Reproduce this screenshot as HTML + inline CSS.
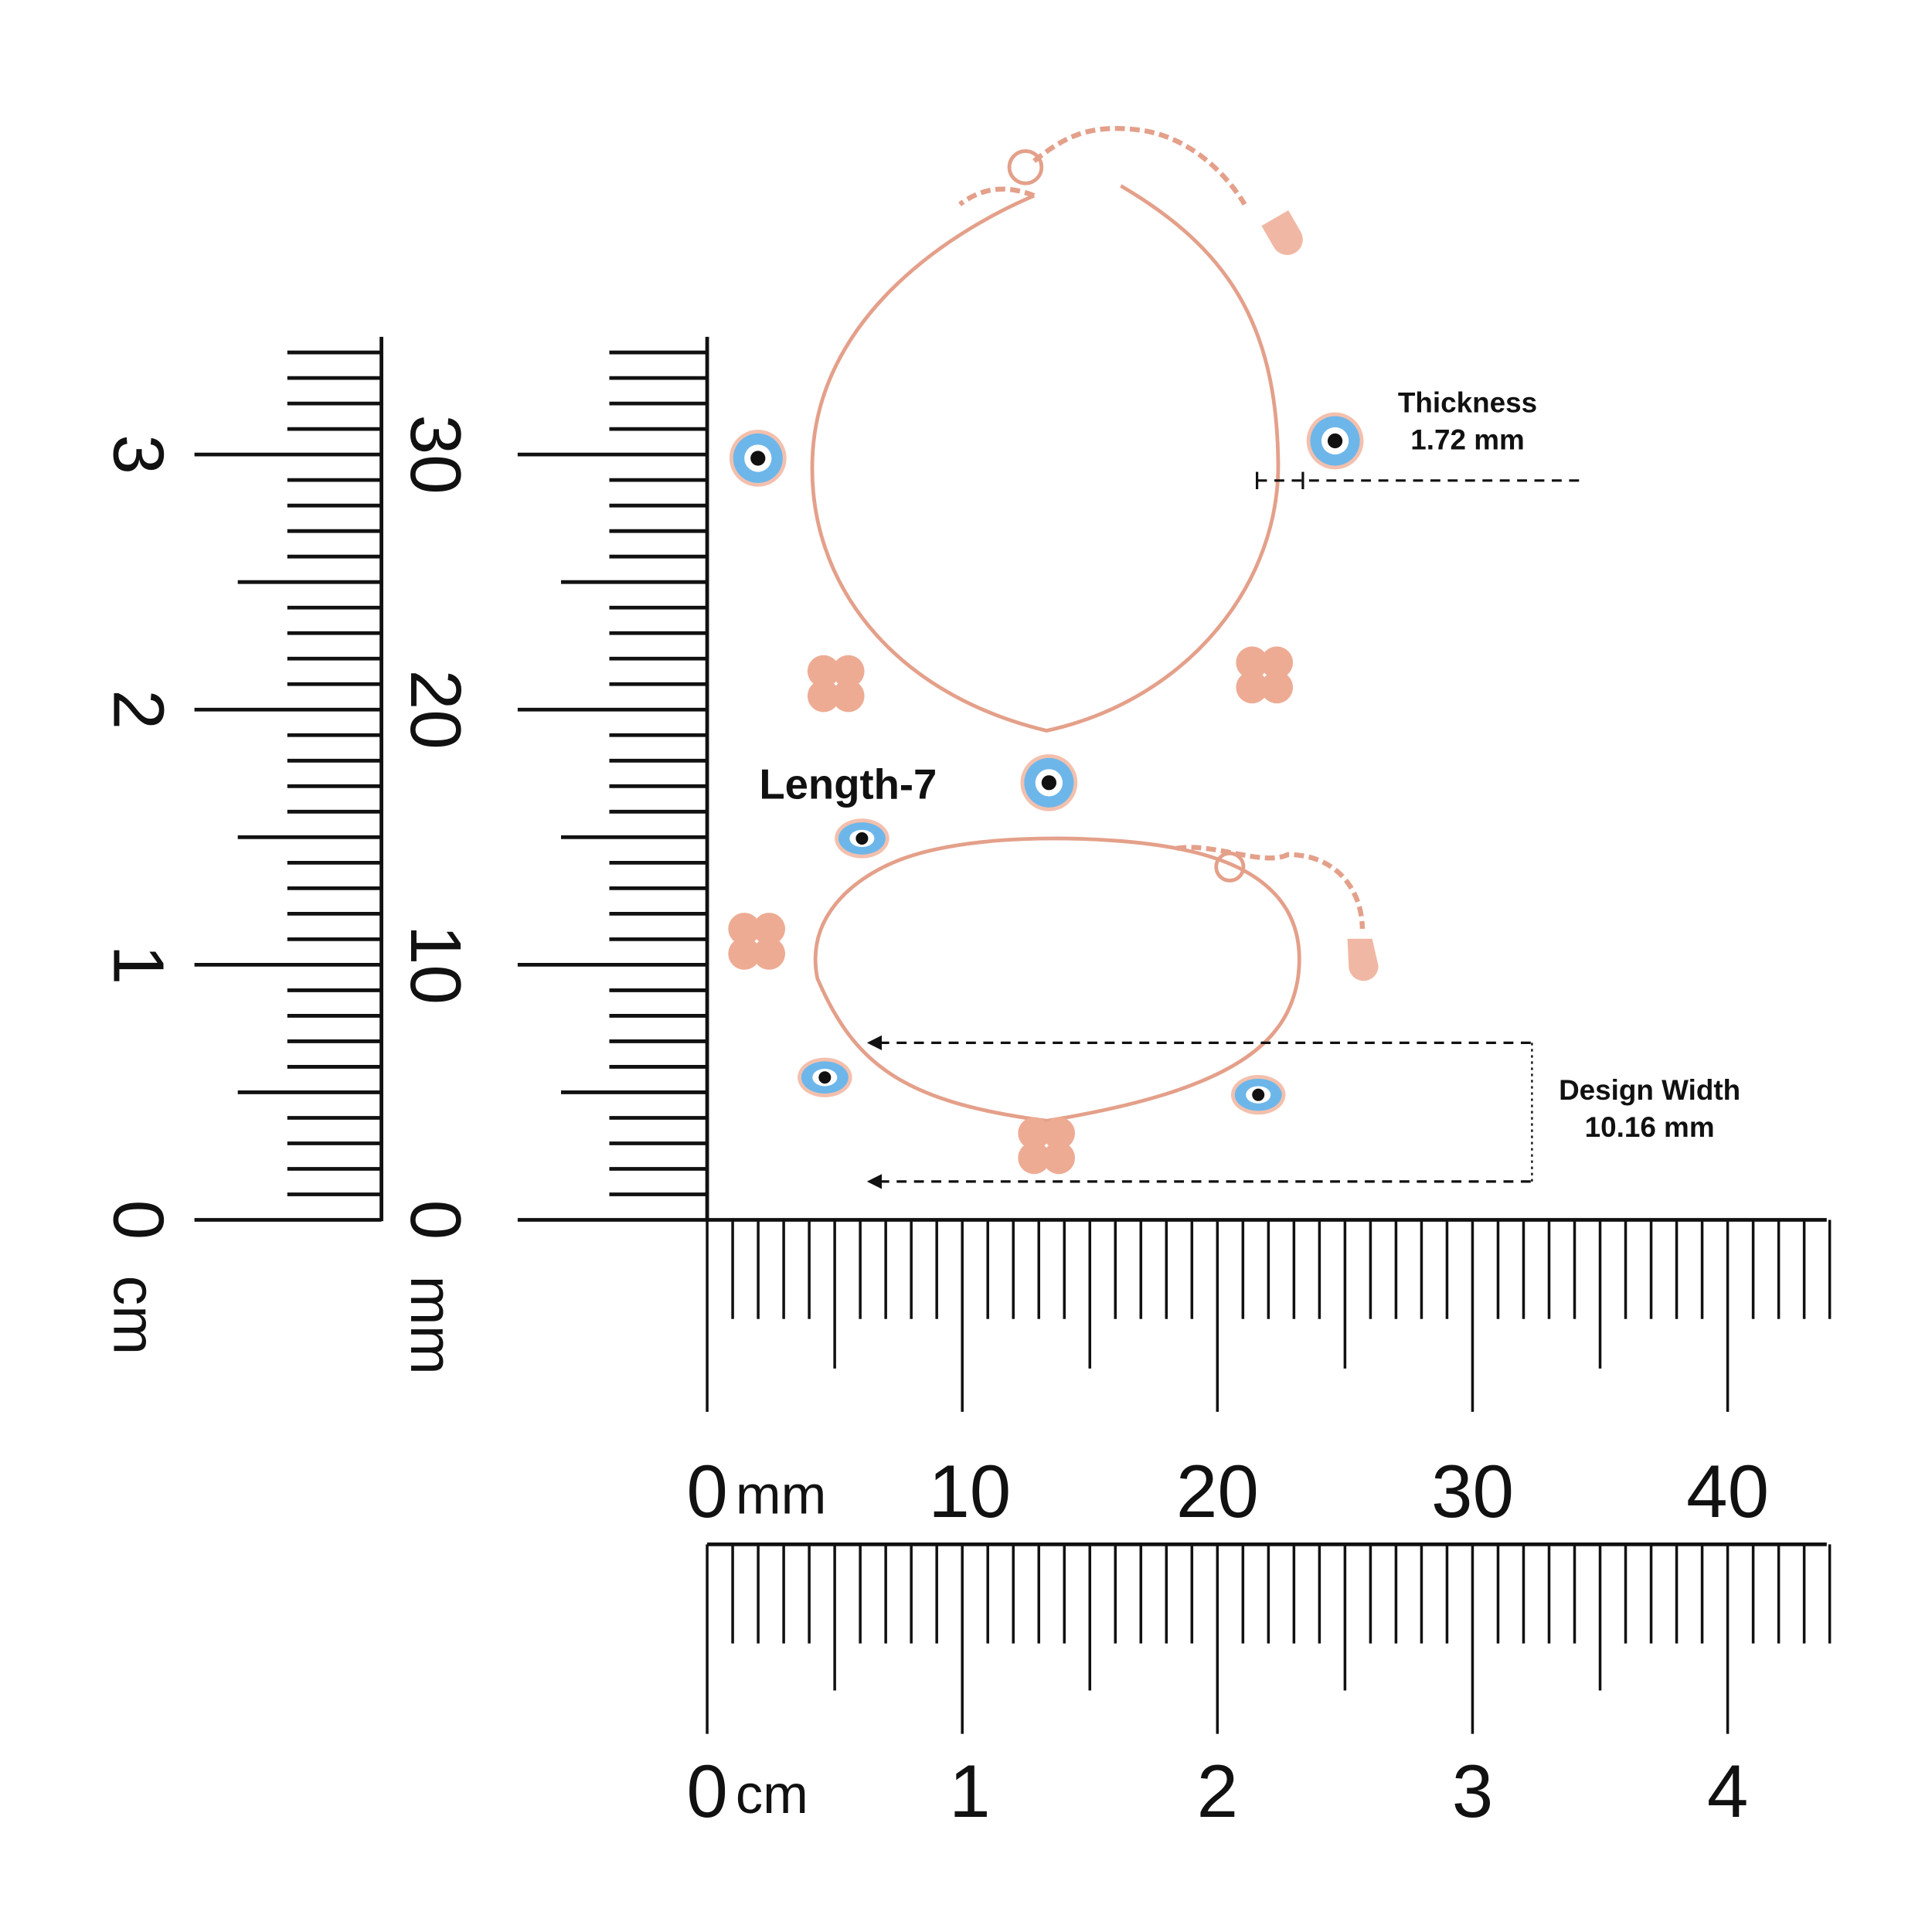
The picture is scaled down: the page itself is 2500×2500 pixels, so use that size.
<!DOCTYPE html>
<html><head><meta charset="utf-8"><style>
html,body{margin:0;padding:0;background:#fff;}
svg{display:block;}
text{font-family:"Liberation Sans",sans-serif;}
</style></head><body>
<svg id="s" width="2500" height="2500" viewBox="0 0 1560 1560" xmlns="http://www.w3.org/2000/svg">
<rect width="1560" height="1560" fill="#fff"/>
<g id="ticks" stroke="#111"></g>
<!-- axis lines -->
<g stroke="#111" stroke-width="3">
<line x1="308" y1="272" x2="308" y2="986"/>
<line x1="571" y1="272" x2="571" y2="986"/>
<line x1="157" y1="985" x2="308" y2="985"/>
<line x1="418" y1="985" x2="1475" y2="985"/>
<line x1="571" y1="1247" x2="1475" y2="1247"/>
</g>
<!-- rotated labels left -->
<g font-size="58" fill="#111">
<text transform="translate(92,985) rotate(90)" text-anchor="middle">0</text>
<text transform="translate(92,779) rotate(90)" text-anchor="middle">1</text>
<text transform="translate(92,573) rotate(90)" text-anchor="middle">2</text>
<text transform="translate(92,367) rotate(90)" text-anchor="middle">3</text>
<text transform="translate(92,1030) rotate(90)" font-size="48">cm</text>
<text transform="translate(332,985) rotate(90)" text-anchor="middle">0</text>
<text transform="translate(332,779) rotate(90)" text-anchor="middle">10</text>
<text transform="translate(332,573) rotate(90)" text-anchor="middle">20</text>
<text transform="translate(332,367) rotate(90)" text-anchor="middle">30</text>
<text transform="translate(332,1030) rotate(90)" font-size="48">mm</text>
</g>
<g font-size="60" fill="#111">
<text x="571" y="1225" text-anchor="middle">0</text><text x="594" y="1222" font-size="44">mm</text>
<text x="783" y="1225" text-anchor="middle">10</text>
<text x="983" y="1225" text-anchor="middle">20</text>
<text x="1189" y="1225" text-anchor="middle">30</text>
<text x="1395" y="1225" text-anchor="middle">40</text>
<text x="571" y="1467" text-anchor="middle">0</text><text x="594" y="1464" font-size="44">cm</text>
<text x="783" y="1467" text-anchor="middle">1</text>
<text x="983" y="1467" text-anchor="middle">2</text>
<text x="1189" y="1467" text-anchor="middle">3</text>
<text x="1395" y="1467" text-anchor="middle">4</text>
</g>
<!-- top bracelet -->
<g fill="none" stroke="#e4a08a" stroke-width="3">
<path d="M835,158 C760,190 660,260 656,370 C652,470 720,560 845,590 C960,565 1035,470 1032,370 C1030,260 990,200 905,150"/>
<path d="M835,130 C860,110 880,100 920,105 C960,110 990,140 1005,165" stroke-dasharray="8 4" stroke-width="4"/>
<path d="M835,158 C815,150 795,150 775,165" stroke-dasharray="8 4" stroke-width="4"/>
<circle cx="828" cy="135" r="13"/>
</g>
<path d="M1022,175 l25,0 l0,20 a12,12 0 0 1 -25,0z" fill="#f0b8a4" transform="rotate(-30 1034 185)"/>
<!-- lower bracelet -->
<g fill="none" stroke="#e4a08a" stroke-width="3">
<path d="M720,697 C780,670 900,675 950,685 C1030,700 1055,740 1048,790 C1040,840 1000,880 845,905 C730,890 690,860 660,790 C650,740 690,710 720,697"/>
<path d="M950,685 C980,680 1020,700 1040,690 C1080,690 1100,720 1100,750" stroke-dasharray="8 4" stroke-width="4"/>
<circle cx="993" cy="700" r="11"/>
</g>
<path d="M1088,758 l20,0 l5,22 a12,12 0 0 1 -24,0z" fill="#f0b8a4"/>
<!-- eyes -->
<defs>
<g id="eye"><circle r="23" fill="#f3c0ad"/><circle r="20" fill="#6db6ea"/><circle r="11" fill="#fff"/><circle r="6" fill="#111"/></g>
<g id="eyeS"><ellipse rx="22" ry="16" fill="#f3c0ad"/><ellipse rx="19" ry="13" fill="#6db6ea"/><ellipse rx="10" ry="7" fill="#fff"/><circle r="5" fill="#111"/></g>
<g id="clover" fill="#eeab94"><circle cx="-10" cy="-10" r="13"/><circle cx="10" cy="-10" r="13"/><circle cx="-10" cy="10" r="13"/><circle cx="10" cy="10" r="13"/></g>
</defs>
<use href="#eye" x="612" y="370"/>
<use href="#eye" x="1078" y="356"/>
<use href="#eye" x="847" y="632"/>
<use href="#clover" x="675" y="552"/>
<use href="#clover" x="1021" y="545"/>
<use href="#eyeS" x="696" y="677"/>
<use href="#clover" x="611" y="760" transform="scale(1)"/>
<use href="#eyeS" x="666" y="870"/>
<use href="#eyeS" x="1016" y="884"/>
<use href="#clover" x="845" y="925"/>
<!-- annotations -->
<g font-weight="bold" fill="#111">
<text x="1185" y="333" font-size="23" text-anchor="middle">Thickness</text>
<text x="1185" y="363" font-size="23" text-anchor="middle">1.72 mm</text>
<text x="613" y="645" font-size="34">Length-7</text>
<text x="1332" y="888" font-size="23" text-anchor="middle">Design Width</text>
<text x="1332" y="918" font-size="23" text-anchor="middle">10.16 mm</text>
</g>
<g stroke="#111" stroke-width="2" fill="none">
<line x1="1015" y1="388" x2="1275" y2="388" stroke-dasharray="8 6"/>
<line x1="1015" y1="381" x2="1015" y2="395"/>
<line x1="1052" y1="381" x2="1052" y2="395"/>
<line x1="710" y1="842" x2="1237" y2="842" stroke-dasharray="8 6"/>
<line x1="710" y1="954" x2="1237" y2="954" stroke-dasharray="8 6"/>
<line x1="1237" y1="842" x2="1237" y2="954" stroke-dasharray="2 3" stroke-width="1.5"/>
</g>
<path d="M700,842 l12,-6 l0,12z M700,954 l12,-6 l0,12z" fill="#111"/>
</svg>
<script>
var g=document.getElementById('ticks'),ns='http://www.w3.org/2000/svg';
function L(x1,y1,x2,y2,w){var l=document.createElementNS(ns,'line');l.setAttribute('x1',x1);l.setAttribute('y1',y1);l.setAttribute('x2',x2);l.setAttribute('y2',y2);l.setAttribute('stroke-width',w);g.appendChild(l);}
var u=20.6;
for(var i=1;i<=34;i++){var y=985-i*u;
 if(i%10==0){L(157,y,308,y,3);L(418,y,571,y,3);}
 else if(i%5==0){L(192,y,308,y,3);L(453,y,571,y,3);}
 else{L(232,y,308,y,3);L(492,y,571,y,3);}}
for(var i=0;i<=44;i++){var x=571+i*u;
 var a=(i%10==0)?1140:(i%5==0)?1105:1065;
 var b=(i%10==0)?1400:(i%5==0)?1365:1327;
 L(x,985,x,a,2.2);L(x,1247,x,b,2.2);}
</script>
</body></html>
